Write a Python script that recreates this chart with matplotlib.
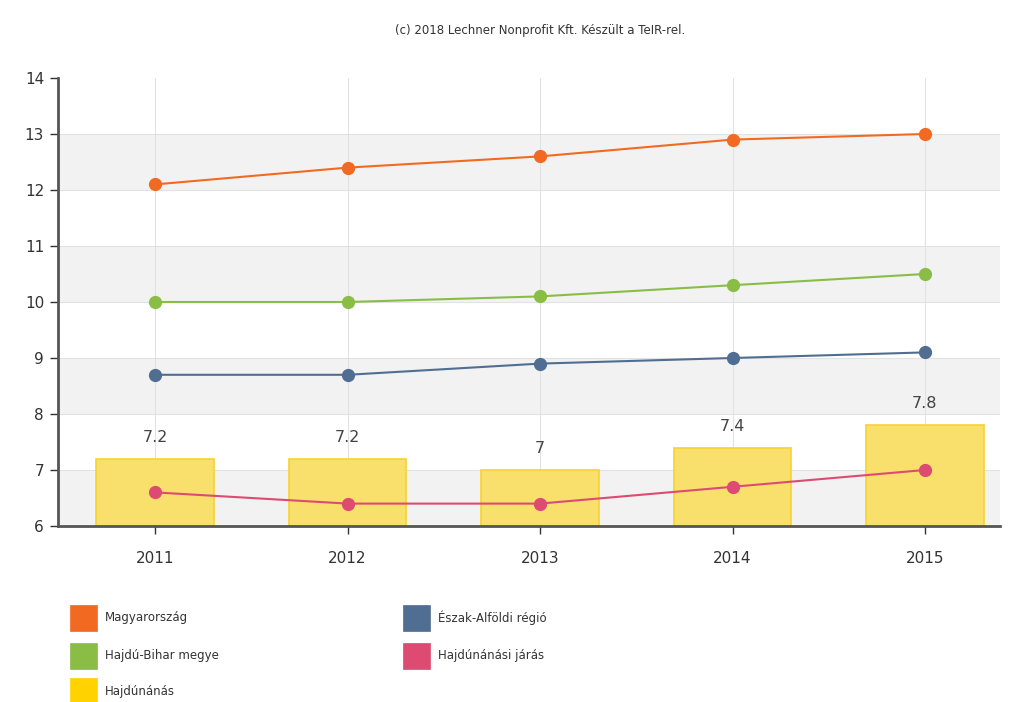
import numpy as np
import matplotlib.pyplot as plt
from matplotlib.patches import Rectangle

years = ['2011', '2012', '2013', '2014', '2015']
hajdunanas = [7.2, 7.2, 7.0, 7.4, 7.8]
bar_labels = ['7.2', '7.2', '7', '7.4', '7.8']
magyarorszag = [12.1, 12.4, 12.6, 12.9, 13.0]
hajdu_bihar = [10.0, 10.0, 10.1, 10.3, 10.5]
eszak_alfold = [8.7, 8.7, 8.9, 9.0, 9.1]
jaras = [6.6, 6.4, 6.4, 6.7, 7.0]

c_orange = '#f26a21'
c_green = '#8abd45'
c_blue = '#506e92'
c_pink = '#dd4a72'
c_yellow = '#ffd200'

W, H = 1010, 702
fig = plt.figure(figsize=(W / 100, H / 100), dpi=100)
ax = fig.add_axes([58 / W, 1 - 526 / H, 942 / W, 448 / H])

x = np.arange(len(years))

# alternating background bands
for lo in range(6, 14, 2):
    ax.axhspan(lo, lo + 1, color='#f2f2f2', zorder=0, lw=0)
for y in range(7, 14):
    ax.axhline(y, color='#e2e2e2', lw=0.8, zorder=0.5)
for xi in x:
    ax.axvline(xi, color='#e2e2e2', lw=0.8, zorder=0.5)

ax.bar(x, [v - 6 for v in hajdunanas], bottom=6, width=0.61, color='#f9df6c',
       edgecolor='#f6d232', lw=1.2, zorder=2)
for xi, v, lab in zip(x, hajdunanas, bar_labels):
    ax.text(xi, v + 0.25, lab, ha='center', va='bottom', fontsize=11.5, color='#444444')

for vals, col in [(magyarorszag, c_orange), (hajdu_bihar, c_green),
                  (eszak_alfold, c_blue), (jaras, c_pink)]:
    ax.plot(x, vals, color=col, lw=1.5, marker='o', ms=8.5, zorder=3)

ax.set_ylim(6, 14)
ax.set_xlim(-0.505, 4.39)
ax.set_yticks(range(6, 15))
ax.set_xticks(x)
ax.set_xticklabels(years)
ax.tick_params(axis='both', labelsize=11, colors='#333333', length=6, width=1)
ax.tick_params(axis='x', pad=12)
ax.tick_params(axis='y', pad=4)
for s in ['top', 'right']:
    ax.spines[s].set_visible(False)
for s in ['left', 'bottom']:
    ax.spines[s].set_color('#555555')
    ax.spines[s].set_linewidth(2)

fig.text(0.535, 0.957, '(c) 2018 Lechner Nonprofit Kft. Készült a TeIR-rel.',
         ha='center', va='center', fontsize=8.5, color='#333333')

# legend, two columns of colour squares
legend_items = [('Magyarország', c_orange, 70, 618),
                ('Hajdú-Bihar megye', c_green, 70, 656),
                ('Hajdúnánás', c_yellow, 70, 691),
                ('Észak-Alföldi régió', c_blue, 403, 618),
                ('Hajdúnánási járás', c_pink, 403, 656)]
for lab, col, px, py in legend_items:
    fig.add_artist(Rectangle((px / W, 1 - (py + 13) / H), 27 / W, 26 / H,
                             transform=fig.transFigure, facecolor=col,
                             edgecolor=col, lw=0.5))
    fig.text((px + 35) / W, 1 - py / H, lab, ha='left', va='center',
             fontsize=8.5, color='#333333')

fig.savefig('out.png', dpi=100, facecolor='white')
